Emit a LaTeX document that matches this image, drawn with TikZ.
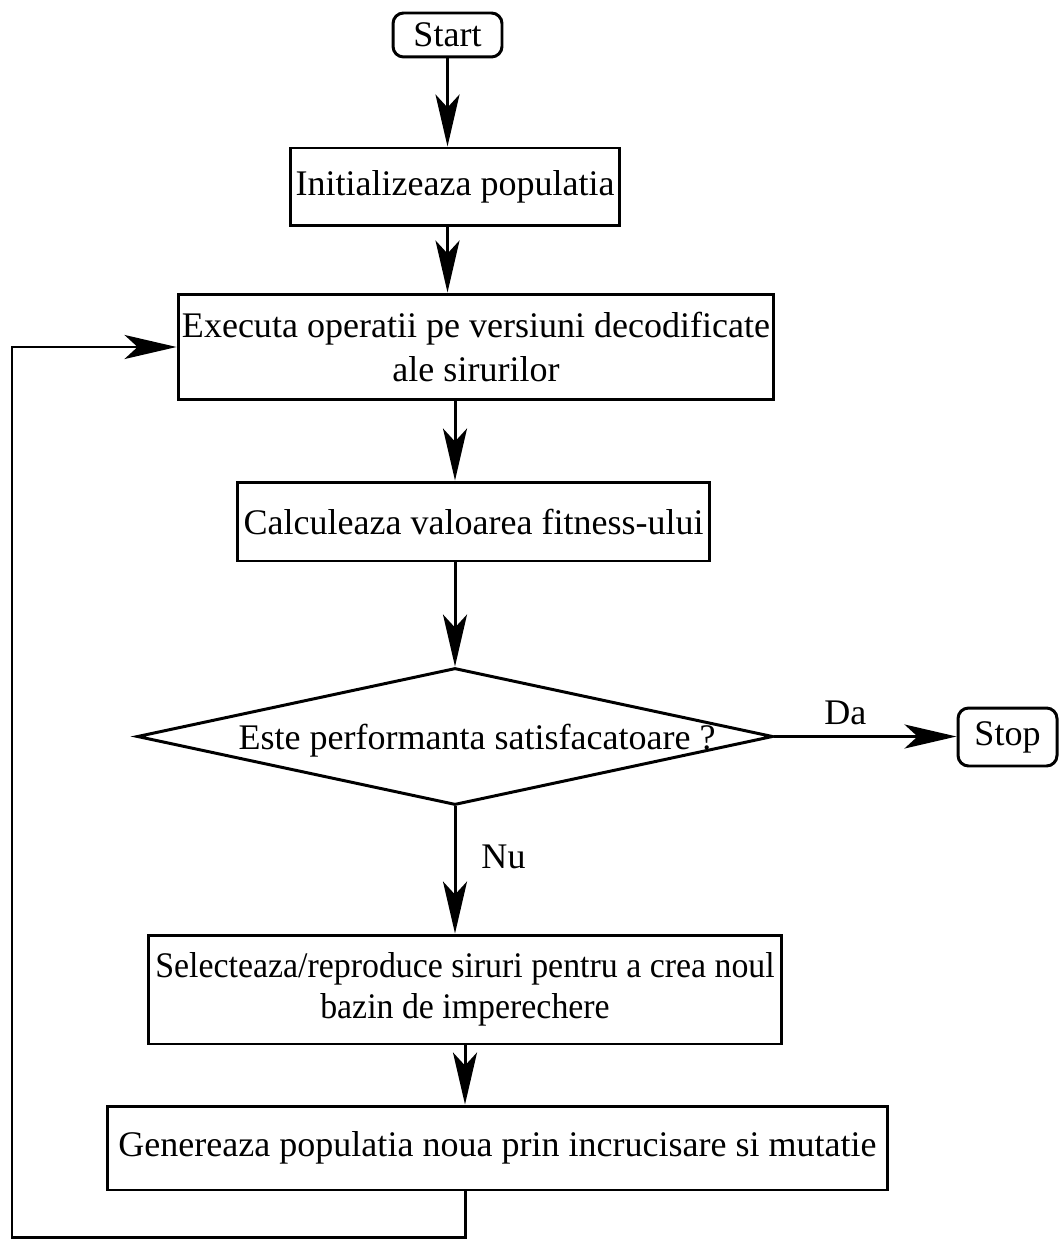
\documentclass[tikz,border=0pt]{standalone}
\usepackage{fontspec}
\setmainfont{Liberation Serif}
\newfontfamily\narrowserif{Liberation Serif}[FakeStretch=0.94]
\usetikzlibrary{arrows.meta, shapes.geometric}

\begin{document}
\begin{tikzpicture}[x=0.02cm, y=-0.02cm,
  box/.style={draw, line width=1.7pt, inner sep=0pt, align=center,
              font=\fontsize{20.5}{25}\selectfont},
  term/.style={box, rounded corners=6pt},
  flow/.style={line width=1.7pt, -{Stealth[length=1.04cm, width=0.48cm, inset=0.26cm]}},
  lbl/.style={inner sep=0pt, font=\fontsize{20.5}{25}\selectfont}]
  \useasboundingbox (0,0) rectangle (1059,1239);

  % Start -- initial population
  \node[term, minimum width=2.18cm, minimum height=0.88cm] (start) at (447.5,35) {Start};
  \node[box, minimum width=6.6cm, minimum height=1.56cm] (init) at (455,187)
       {Initializeaza populatia};

  % Decode and evaluate
  \node[box, minimum width=11.92cm, minimum height=2.12cm] (exec) at (476,347)
       {Executa operatii pe versiuni decodificate\\ale sirurilor};
  \node[box, minimum width=9.46cm, minimum height=1.58cm] (calc) at (473.5,521.5)
       {Calculeaza valoarea fitness-ului};

  % Decision
  \node[box, shape=diamond, minimum width=12.72cm, minimum height=2.74cm,
        label={[lbl, xshift=0.44cm, yshift=-0.08cm]center:Este performanta satisfacatoare ?}]
       (dec) at (455,736.5) {};
  \node[term, minimum width=1.98cm, minimum height=1.16cm] (stop) at (1007.5,737) {Stop};

  % New generation
  \node[box, minimum width=12.68cm, minimum height=2.18cm,
        font=\narrowserif\fontsize{20.5}{23}\selectfont] (sel) at (465,989.5)
       {Selecteaza/reproduce siruri pentru a crea noul\\bazin de imperechere};
  \node[box, minimum width=15.62cm, minimum height=1.68cm] (gen) at (497.5,1148)
       {Genereaza populatia noua prin incrucisare si mutatie};

  \coordinate (loopcorner) at (12,1237);

  % Connectors
  \draw[flow] (start.south) -- (start.south |- init.north);
  \draw[flow] (init.south -| start.south) -- (start.south |- exec.north);
  \draw[flow] (exec.south -| dec.north) -- (dec.north |- calc.north);
  \draw[flow] (calc.south -| dec.north) -- (dec.north);
  \draw[flow] (dec.east) -- (dec.east -| stop.west)
       node[lbl, pos=0.39, above=0.2cm] (da) {Da};
  \draw[flow] (dec.south) -- (dec.south |- sel.north)
       node[lbl, pos=0.4, right=0.5cm] (nu) {Nu};
  \draw[flow] (sel.south) -- (sel.south |- gen.north);
  \draw[flow] (gen.south -| sel.south) |- (loopcorner) |- (exec.west);
\end{tikzpicture}
\end{document}
